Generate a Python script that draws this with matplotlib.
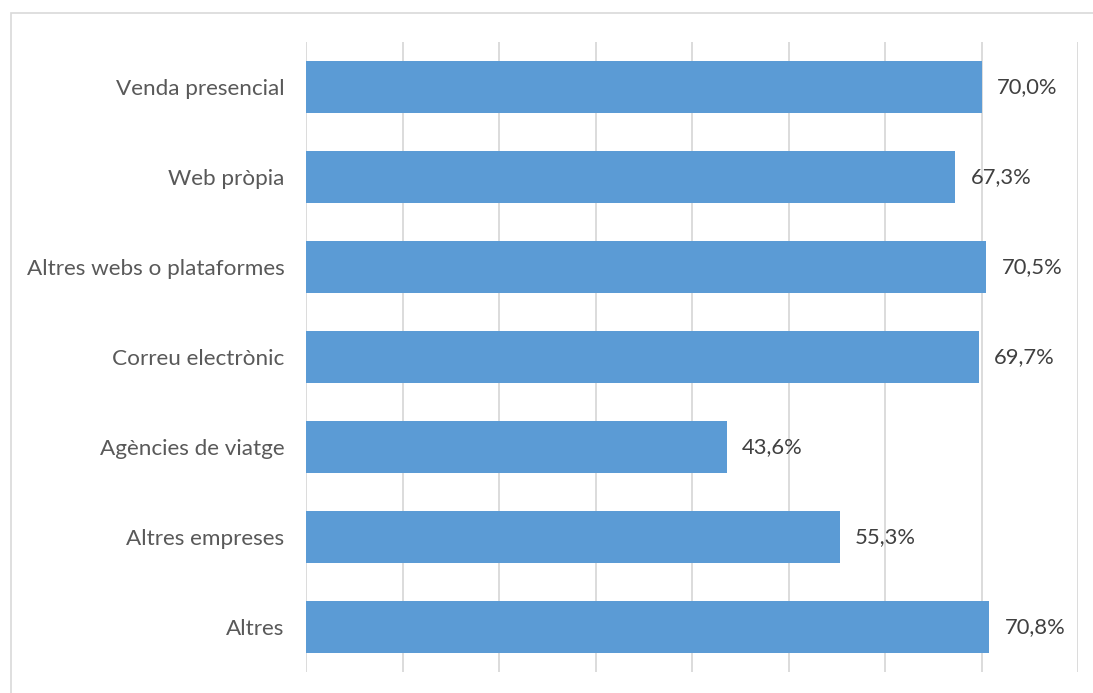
import matplotlib.pyplot as plt
from matplotlib.patches import Rectangle

categories = ["Venda presencial", "Web pròpia", "Altres webs o plataformes",
              "Correu electrònic", "Agències de viatge", "Altres empreses", "Altres"]
values = [70.0, 67.3, 70.5, 69.7, 43.6, 55.3, 70.8]
value_labels = ["70,0%", "67,3%", "70,5%", "69,7%", "43,6%", "55,3%", "70,8%"]

plt.rcParams['font.family'] = ['Lato', 'DejaVu Sans']

W, H = 1093, 693
fig = plt.figure(figsize=(W / 100, H / 100), dpi=100)
fig.patch.set_facecolor('white')

# chart-area border
fig.patches.append(Rectangle((10.5 / W, -0.01), (W + 10) / W, 1 - 13 / H + 0.01,
                             transform=fig.transFigure, fill=False,
                             edgecolor='#D9D9D9', linewidth=1.2))

ax = fig.add_axes([306 / W, 1 - 672 / H, (1078 - 306) / W, (672 - 42) / H])
y = list(range(len(categories)))
ax.barh(y, values, height=0.57, color='#5B9BD5', zorder=3)
ax.set_xlim(0, 80)
ax.set_ylim(len(categories) - 0.5, -0.5)
ax.set_xticks(range(0, 81, 10))
ax.set_xticklabels([])
ax.tick_params(axis='x', length=0)
ax.tick_params(axis='y', length=0, pad=15.5, labelsize=16.2, labelcolor='#595959')
ax.set_yticks(y)
ax.set_yticklabels(categories)
ax.grid(axis='x', color='#D9D9D9', linewidth=1.3, zorder=0)
for s in ax.spines.values():
    s.set_visible(False)

for yi, v, lab in zip(y, values, value_labels):
    ax.annotate(lab, (v, yi), xytext=(11, 0), textcoords='offset points',
                va='center', ha='left', fontsize=15.8, color='#404040')

fig.savefig('out.png', dpi=100)
